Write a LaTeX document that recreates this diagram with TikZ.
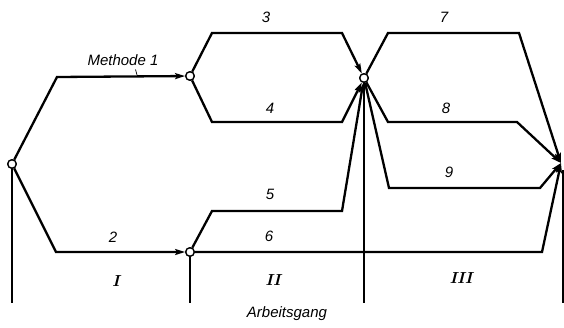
\documentclass[tikz,border=0pt]{standalone}
\usepackage{fontspec}
\setsansfont{Liberation Sans}
\usetikzlibrary{arrows.meta}
\begin{document}
\begin{tikzpicture}[x=1pt,y=-1pt,
  path/.style={line width=2.3pt, line join=miter},
  arr/.style={path, -{Stealth[length=10pt,width=6pt,inset=2pt]}},
  divider/.style={line width=1.1pt},
  knot/.style={circle, draw, line width=1.3pt, fill=white, inner sep=0pt, minimum size=8.5pt},
  lab/.style={font=\sffamily\itshape\fontsize{15}{15}\selectfont},
  roman/.style={font=\rmfamily\bfseries\itshape\fontsize{16}{16}\selectfont}]
\useasboundingbox (0,0) rectangle (564,327);
\fill[white] (0,0) rectangle (564,327);
% dividers
\coordinate (E) at (561,163);
\coordinate (Ebot) at (563,303);
\coordinate (Etop) at (563,170);
\coordinate (Abot) at (12,303);
\coordinate (Cbot) at (190,303);
\coordinate (Dbot) at (364,303);
\node[knot] (A) at (12,164) {};
\node[knot] (B) at (190,76) {};
\node[knot] (C) at (190,252) {};
\node[knot] (D) at (364,78) {};
\draw[divider] (A) -- (Abot);
\draw[divider] (C) -- (Cbot);
\draw[divider] (D) -- (Dbot);
\draw[divider] (Etop) -- (Ebot);
% paths
\draw[arr] (A) -- (57,77) -- (B);
\draw[arr] (A) -- (56,252) -- (C);
\draw[arr] (B) -- (212,33) -- (342,33) -- (D);
\draw[arr] (B) -- (212,122) -- (342,122) -- (D);
\draw[arr] (C) -- (212,211) -- (342,211) -- (D);
\draw[arr] (C) -- (542,252) -- (E);
\draw[arr] (D) -- (388,33) -- (519,33) -- (E);
\draw[arr] (D) -- (388,122) -- (517,122) -- (E);
\draw[arr] (D) -- (389,188) -- (540,188) -- (E);
% redraw knots on top
\node[knot] at (A) {};
\node[knot] at (B) {};
\node[knot] at (C) {};
\node[knot] at (D) {};
% labels
\node[lab] (m1) at (123,60) {Methode 1};
\draw[line width=0.7pt] (135.5,69.5) -- (137,75);
\node[lab] (l2) at (113,237) {2};
\node[lab] (l3) at (266,17) {3};
\node[lab] (l4) at (270,108) {4};
\node[lab] (l5) at (270,194) {5};
\node[lab] (l6) at (269,236) {6};
\node[lab] (l7) at (444,17) {7};
\node[lab] (l8) at (446,108) {8};
\node[lab] (l9) at (449,172) {9};
\node[roman] (r1) at (116,281) {I};
\node[roman] (r2) at (273,280) {II};
\node[roman] (r3) at (461,278) {III};
\node[lab] (ag) at (287,314) {Arbeitsgang};
\end{tikzpicture}
\end{document}
